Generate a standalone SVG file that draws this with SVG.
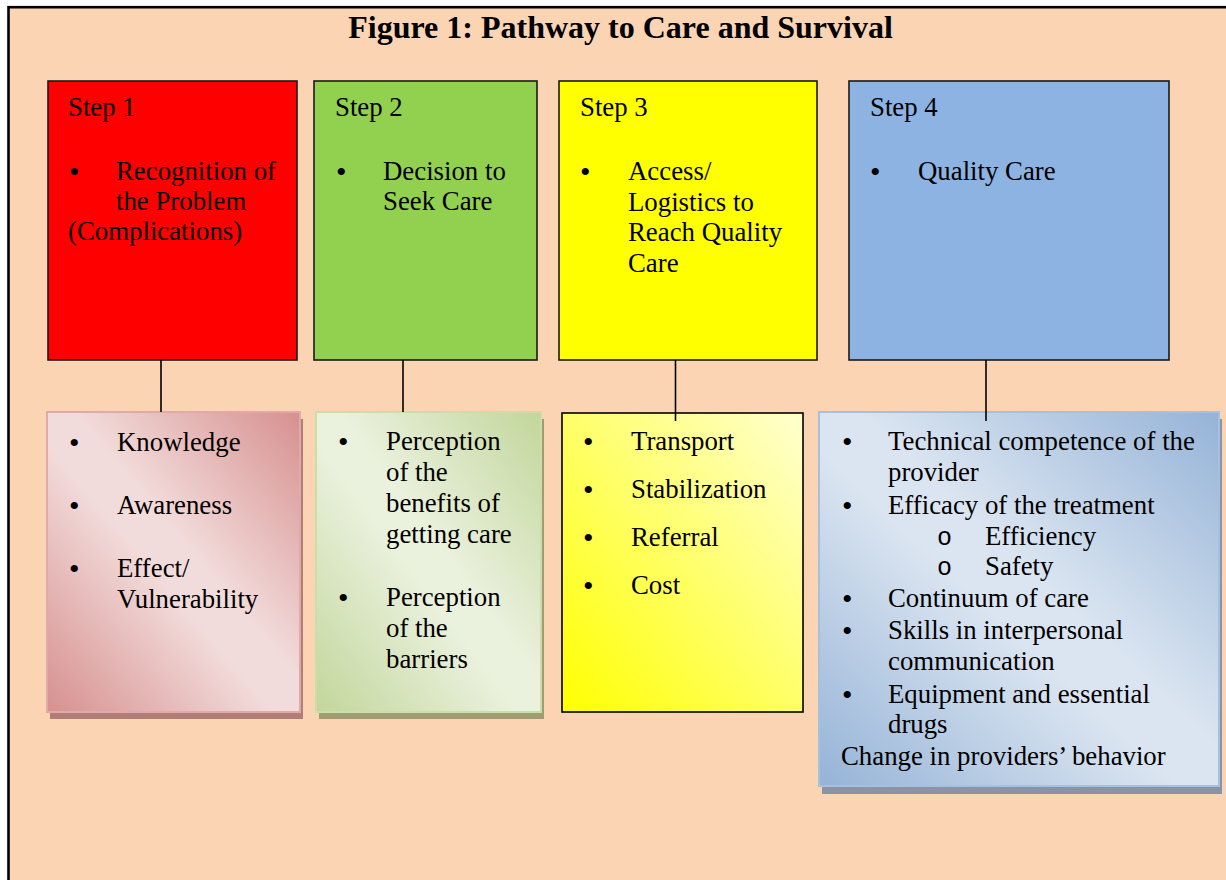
<svg xmlns="http://www.w3.org/2000/svg" width="1226" height="880" viewBox="0 0 1226 880">
<style>
  text { font-family: "Liberation Serif", "Times New Roman", serif; font-size: 26.8px; fill: #000; }
  .title { font-size: 32px; font-weight: bold; }
  .bul { font-size: 30px; }
  .sub { font-family: "Liberation Mono", "Courier New", monospace; font-size: 25px; }
  .top { stroke: #1a1a1a; stroke-width: 1.6; }
  .conn line { stroke: #000; stroke-width: 1.6; }
</style>
<defs>
  <linearGradient id="gRed" x1="0" y1="1" x2="1" y2="0">
    <stop offset="0" stop-color="#D6908F"/>
    <stop offset="0.45" stop-color="#F2DCDB"/>
    <stop offset="0.55" stop-color="#F2DCDB"/>
    <stop offset="1" stop-color="#D6908F"/>
  </linearGradient>
  <linearGradient id="gGreen" x1="0" y1="1" x2="1" y2="0">
    <stop offset="0" stop-color="#C2D69B"/>
    <stop offset="0.45" stop-color="#EAF1DD"/>
    <stop offset="0.55" stop-color="#EAF1DD"/>
    <stop offset="1" stop-color="#C2D69B"/>
  </linearGradient>
  <linearGradient id="gYellow" x1="0" y1="1" x2="1" y2="0">
    <stop offset="0" stop-color="#FFFF00"/>
    <stop offset="1" stop-color="#FFFFD0"/>
  </linearGradient>
  <linearGradient id="gBlue" x1="0" y1="1" x2="1" y2="0">
    <stop offset="0" stop-color="#95B3D7"/>
    <stop offset="0.45" stop-color="#DBE5F1"/>
    <stop offset="0.55" stop-color="#DBE5F1"/>
    <stop offset="1" stop-color="#95B3D7"/>
  </linearGradient>
</defs>
<rect x="0" y="0" width="1226" height="880" fill="#FFFFFF"/>
<rect id="frame" x="8.5" y="7.2" width="1240" height="900" fill="#FBD4B4" stroke="#000" stroke-width="2.6"/>
<text class="title" x="620.5" y="38" text-anchor="middle">Figure 1: Pathway to Care and Survival</text>

<g id="step1">
  <rect class="top" x="48" y="81" width="249" height="279" fill="#FF0000"/>
  <text x="68" y="116">Step 1</text>
  <text class="bul" x="69" y="182">•</text>
  <text x="116" y="180">Recognition of</text>
  <text x="116" y="209.5">the Problem</text>
  <text x="68" y="240">(Complications)</text>
</g>
<g id="step2">
  <rect class="top" x="314" y="81" width="223" height="279" fill="#92D050"/>
  <text x="335" y="116">Step 2</text>
  <text class="bul" x="336" y="182">•</text>
  <text x="383" y="180">Decision to</text>
  <text x="383" y="210">Seek Care</text>
</g>
<g id="step3">
  <rect class="top" x="559" y="81" width="258" height="279" fill="#FFFF00"/>
  <text x="580" y="116">Step 3</text>
  <text class="bul" x="580" y="182">•</text>
  <text x="628" y="180">Access/</text>
  <text x="628" y="210.5">Logistics to</text>
  <text x="628" y="241">Reach Quality</text>
  <text x="628" y="271.5">Care</text>
</g>
<g id="step4">
  <rect class="top" x="849" y="81" width="320" height="279" fill="#8DB3E2"/>
  <text x="870" y="116">Step 4</text>
  <text class="bul" x="870" y="182">•</text>
  <text x="918" y="180">Quality Care</text>
</g>

<g id="detail1">
  <rect x="50" y="419" width="253" height="300" fill="#B07E76"/>
  <rect x="47" y="412" width="253" height="300" fill="url(#gRed)" stroke="#E2A9A8" stroke-width="2"/>
  <text class="bul" x="69" y="453">•</text>
  <text x="117" y="451">Knowledge</text>
  <text class="bul" x="69" y="516">•</text>
  <text x="117" y="514">Awareness</text>
  <text class="bul" x="69" y="579">•</text>
  <text x="117" y="577">Effect/</text>
  <text x="117" y="607.5">Vulnerability</text>
</g>
<g id="detail2">
  <rect x="319" y="419" width="225" height="300" fill="#A29C72"/>
  <rect x="316" y="412" width="225" height="300" fill="url(#gGreen)" stroke="#CBDDA9" stroke-width="2"/>
  <text class="bul" x="338" y="452">•</text>
  <text x="386" y="450">Perception</text>
  <text x="386" y="481">of the</text>
  <text x="386" y="512">benefits of</text>
  <text x="386" y="543">getting care</text>
  <text class="bul" x="338" y="608">•</text>
  <text x="386" y="606">Perception</text>
  <text x="386" y="637">of the</text>
  <text x="386" y="668">barriers</text>
</g>
<g id="detail3">
  <rect x="562" y="413" width="241" height="299" fill="url(#gYellow)" stroke="#000" stroke-width="1.6"/>
  <text class="bul" x="583" y="452">•</text>
  <text x="631" y="450">Transport</text>
  <text class="bul" x="583" y="500">•</text>
  <text x="631" y="498">Stabilization</text>
  <text class="bul" x="583" y="548">•</text>
  <text x="631" y="546">Referral</text>
  <text class="bul" x="583" y="596">•</text>
  <text x="631" y="594">Cost</text>
</g>
<g id="detail4">
  <rect x="822" y="419" width="400" height="375" fill="#8B93A7"/>
  <rect x="819" y="412" width="400" height="374" fill="url(#gBlue)" stroke="#A6C0E0" stroke-width="2"/>
  <text class="bul" x="842" y="452">•</text>
  <text x="888" y="450">Technical competence of the</text>
  <text x="888" y="481">provider</text>
  <text class="bul" x="842" y="515.5">•</text>
  <text x="888" y="513.5">Efficacy of the treatment</text>
  <text class="sub" x="937" y="544.5">o</text>
  <text x="985" y="544.5">Efficiency</text>
  <text class="sub" x="937" y="575">o</text>
  <text x="985" y="575">Safety</text>
  <text class="bul" x="842" y="609">•</text>
  <text x="888" y="607">Continuum of care</text>
  <text class="bul" x="842" y="641">•</text>
  <text x="888" y="639">Skills in interpersonal</text>
  <text x="888" y="670">communication</text>
  <text class="bul" x="842" y="704.5">•</text>
  <text x="888" y="702.5">Equipment and essential</text>
  <text x="888" y="733">drugs</text>
  <text x="841" y="765">Change in providers’ behavior</text>
</g>

<g id="connectors" class="conn">
  <line x1="161" y1="360" x2="161" y2="412"/>
  <line x1="403" y1="360" x2="403" y2="412"/>
  <line x1="675.5" y1="360" x2="675.5" y2="421"/>
  <line x1="986" y1="360" x2="986" y2="421"/>
</g>
</svg>
